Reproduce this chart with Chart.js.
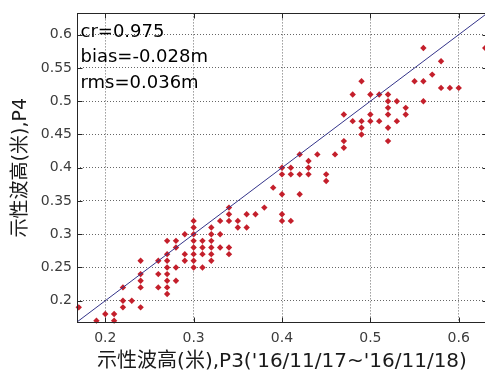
<!DOCTYPE html>
<html>
<head>
<meta charset="utf-8">
<script src="https://cdn.jsdelivr.net/npm/chart.js@4.4.0/dist/chart.umd.min.js"></script>
<style>
  html, body { margin: 0; padding: 0; overflow: hidden; background: #fff; }
  #wrap { width: 491px; height: 375px; }
</style>
</head>
<body>
<div id="wrap"><canvas id="waveChart"></canvas></div>
<script>
// significant wave height at P3 (x) against P4 (y), metres
const p3 = [
  0.17, 0.19, 0.20, 0.21, 0.21, 0.22, 0.22, 0.22, 0.23,
  0.24, 0.24, 0.24, 0.24, 0.24, 0.26, 0.26, 0.26,
  0.27, 0.27, 0.27, 0.27, 0.27, 0.27, 0.27, 0.27,
  0.28, 0.28, 0.28, 0.28, 0.29, 0.29, 0.29,
  0.30, 0.30, 0.30, 0.30, 0.30, 0.30, 0.30, 0.30,
  0.31, 0.31, 0.31, 0.31,
  0.32, 0.32, 0.32, 0.32, 0.32, 0.32,
  0.33, 0.33, 0.33,
  0.34, 0.34, 0.34, 0.34, 0.34,
  0.35, 0.35, 0.36, 0.36, 0.37, 0.38, 0.39,
  0.40, 0.40, 0.40, 0.40, 0.40,
  0.41, 0.41, 0.41, 0.42, 0.42, 0.42, 0.43, 0.43, 0.43,
  0.44, 0.45, 0.45, 0.46, 0.47, 0.47, 0.47, 0.48, 0.48,
  0.49, 0.49, 0.49, 0.49, 0.50, 0.50, 0.50, 0.51, 0.51,
  0.52, 0.52, 0.52, 0.52, 0.52, 0.52,
  0.53, 0.53, 0.54, 0.54, 0.55, 0.56, 0.56, 0.56,
  0.57, 0.58, 0.58, 0.59, 0.60, 0.63
];
const p4 = [
  0.19, 0.17, 0.18, 0.18, 0.17, 0.22, 0.20, 0.19, 0.20,
  0.26, 0.24, 0.23, 0.22, 0.19, 0.26, 0.24, 0.22,
  0.29, 0.27, 0.26, 0.25, 0.24, 0.23, 0.22, 0.21,
  0.29, 0.28, 0.25, 0.23, 0.30, 0.27, 0.26,
  0.32, 0.31, 0.30, 0.29, 0.28, 0.27, 0.26, 0.25,
  0.29, 0.28, 0.27, 0.25,
  0.31, 0.30, 0.29, 0.28, 0.27, 0.26,
  0.32, 0.30, 0.28,
  0.34, 0.33, 0.32, 0.28, 0.27,
  0.32, 0.31, 0.33, 0.31, 0.33, 0.34, 0.37,
  0.40, 0.39, 0.36, 0.33, 0.32,
  0.40, 0.39, 0.32, 0.42, 0.39, 0.36, 0.41, 0.40, 0.39,
  0.42, 0.39, 0.38, 0.42, 0.48, 0.44, 0.43, 0.51, 0.47,
  0.53, 0.47, 0.46, 0.45, 0.51, 0.48, 0.47, 0.51, 0.47,
  0.51, 0.50, 0.49, 0.48, 0.46, 0.44,
  0.50, 0.47, 0.49, 0.48, 0.53, 0.58, 0.53, 0.50,
  0.54, 0.56, 0.52, 0.52, 0.52, 0.58
];

const xTicks = [0.2, 0.3, 0.4, 0.5, 0.6];
const yTicks = [0.2, 0.25, 0.3, 0.35, 0.4, 0.45, 0.5, 0.55, 0.6];
const axisMin = 0.168;
const axisMax = 0.632;

const statLines = ['cr=0.975', 'bias=-0.028m', 'rms=0.036m'];
const xTitle = "示性波高(米),P3('16/11/17~'16/11/18)";
const yTitle = '示性波高(米),P4';

const fontFamily = '"DejaVu Sans", "Noto Sans CJK TC", sans-serif';
const frameColor = '#262626';

// box round the axes, inward tick marks and the statistics text
const framePlugin = {
  id: 'frame',
  afterDatasetsDraw(chart) {
    const { ctx, chartArea: a, scales: { x, y } } = chart;
    ctx.save();
    ctx.setLineDash([]);
    ctx.strokeStyle = frameColor;
    ctx.lineWidth = 1;
    const l = Math.round(a.left) + 0.5, r = Math.round(a.right) + 0.5;
    const t = Math.round(a.top) + 0.5, b = Math.round(a.bottom) + 0.5;
    ctx.strokeRect(l, t, r - l, b - t);

    ctx.beginPath();
    xTicks.forEach(v => {
      const px = Math.round(x.getPixelForValue(v)) + 0.5;
      ctx.moveTo(px, b); ctx.lineTo(px, b - 5);
      ctx.moveTo(px, t); ctx.lineTo(px, t + 5);
    });
    yTicks.forEach(v => {
      const py = Math.round(y.getPixelForValue(v)) + 0.5;
      ctx.moveTo(l, py); ctx.lineTo(l + 5, py);
      ctx.moveTo(r, py); ctx.lineTo(r - 5, py);
    });
    ctx.stroke();

    ctx.fillStyle = '#000';
    ctx.font = '18px ' + fontFamily;
    ctx.textBaseline = 'alphabetic';
    statLines.forEach((s, i) => ctx.fillText(s, a.left + 3.5, a.top + 23.5 + i * 25.5));
    ctx.restore();
  }
};

const ctx = document.getElementById('waveChart').getContext('2d');
const waveChart = new Chart(ctx, {
  type: 'scatter',
  data: {
    datasets: [
      {
        // 1:1 line
        type: 'line',
        data: [{ x: axisMin, y: axisMin }, { x: axisMax, y: axisMax }],
        borderColor: '#34348a',
        borderWidth: 1,
        pointRadius: 0,
        fill: false
      },
      {
        data: p3.map((v, i) => ({ x: v, y: p4[i] })),
        pointStyle: 'rectRot',
        pointRadius: 3.2,
        backgroundColor: '#c41f2b',
        borderWidth: 0,
        clip: false
      }
    ]
  },
  options: {
    responsive: true,
    maintainAspectRatio: false,
    animation: false,
    events: [],
    layout: { padding: { top: 8, right: 3, left: 0, bottom: 0 } },
    plugins: { legend: { display: false }, tooltip: { enabled: false } },
    scales: {
      x: {
        type: 'linear',
        min: axisMin,
        max: axisMax,
        afterBuildTicks: s => { s.ticks = xTicks.map(v => ({ value: v })); },
        afterFit: s => { s.height = 53; },
        ticks: {
          padding: 8,
          color: '#3c3c3c',
          font: { family: fontFamily, size: 14 },
          callback: v => String(v)
        },
        grid: { color: 'rgba(0,0,0,0.6)', drawTicks: false },
        border: { display: false, dash: [1, 2] },
        title: {
          display: true,
          text: xTitle,
          color: '#1a1a1a',
          font: { family: fontFamily, size: 20 },
          padding: { top: 0, bottom: 1 }
        }
      },
      y: {
        type: 'linear',
        min: axisMin,
        max: axisMax,
        afterBuildTicks: s => { s.ticks = yTicks.map(v => ({ value: v })); },
        afterFit: s => { s.width = 77; },
        ticks: {
          padding: 5,
          color: '#3c3c3c',
          font: { family: fontFamily, size: 14 },
          callback: v => String(v)
        },
        grid: { color: 'rgba(0,0,0,0.6)', drawTicks: false },
        border: { display: false, dash: [1, 2] },
        title: {
          display: true,
          text: yTitle,
          color: '#1a1a1a',
          font: { family: fontFamily, size: 19 },
          padding: { top: 10, bottom: 0 }
        }
      }
    }
  },
  plugins: [framePlugin]
});
</script>
</body>
</html>
